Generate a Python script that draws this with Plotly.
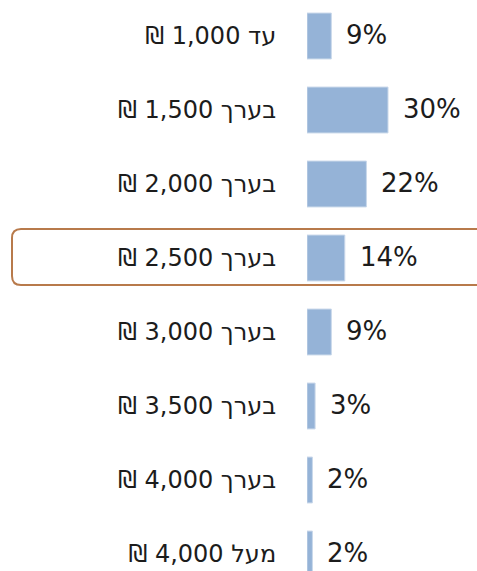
import plotly.graph_objects as go

RLE = "\u202b"
PDF = "\u202c"

labels = ["עד 1,000 ₪", "בערך 1,500 ₪", "בערך 2,000 ₪", "בערך 2,500 ₪",
          "בערך 3,000 ₪", "בערך 3,500 ₪", "בערך 4,000 ₪", "מעל 4,000 ₪"]
percents = [9, 30, 22, 14, 9, 3, 2, 2]

# force right-to-left display of the hebrew labels
cats = [RLE + s + PDF for s in labels]

W, H = 477, 571
ML = 307
PLOT_W = W - ML

fig = go.Figure()
fig.add_trace(go.Bar(
    x=percents, y=cats, orientation="h",
    marker=dict(color="#95b3d7", line=dict(color="#c9d8ea", width=1)),
    hoverinfo="skip", cliponaxis=False,
))

for c, v in zip(cats, percents):
    fig.add_annotation(x=v, y=c, text="{}%".format(v), showarrow=False,
                       xanchor="left", xshift=13, yshift=1,
                       font=dict(family="DejaVu Sans", size=26, color="#1c1c1c"))


def px2paper(px, py):
    return (px - ML) / PLOT_W, 1 - py / H


# rounded frame around the highlighted row
x0, x1, y0, y1, r = 12, 495, 229, 285, 9
pts = [("M", x0 + r, y0), ("L", x1 - r, y0), ("Q", x1, y0, x1, y0 + r),
       ("L", x1, y1 - r), ("Q", x1, y1, x1 - r, y1), ("L", x0 + r, y1),
       ("Q", x0, y1, x0, y1 - r), ("L", x0, y0 + r), ("Q", x0, y0, x0 + r, y0)]
path = ""
for p in pts:
    cmd, coords = p[0], p[1:]
    seg = []
    for i in range(0, len(coords), 2):
        a, b = px2paper(coords[i], coords[i + 1])
        seg.append("{:.5f},{:.5f}".format(a, b))
    path += cmd + " ".join(seg) + " "
path += "Z"
fig.add_shape(type="path", path=path, xref="paper", yref="paper",
              line=dict(color="#b87a4b", width=2), layer="above")

pitch = 74.0
first_center = 36.0
fig.update_layout(
    width=W, height=H,
    margin=dict(l=ML, r=0, t=0, b=0),
    paper_bgcolor="white", plot_bgcolor="white",
    showlegend=False, bargap=0.38,
    xaxis=dict(range=[0, PLOT_W / 2.7], visible=False),
    yaxis=dict(
        type="category",
        range=[(H - first_center) / pitch, -first_center / pitch],
        showgrid=False, zeroline=False, showline=False,
        ticks="outside", ticklen=25, tickcolor="rgba(0,0,0,0)",
        tickfont=dict(family="DejaVu Sans", size=24, color="#1c1c1c"),
    ),
)

fig.write_html("out.html", config={"displayModeBar": False},
               post_script="document.body.style.margin='0';")
